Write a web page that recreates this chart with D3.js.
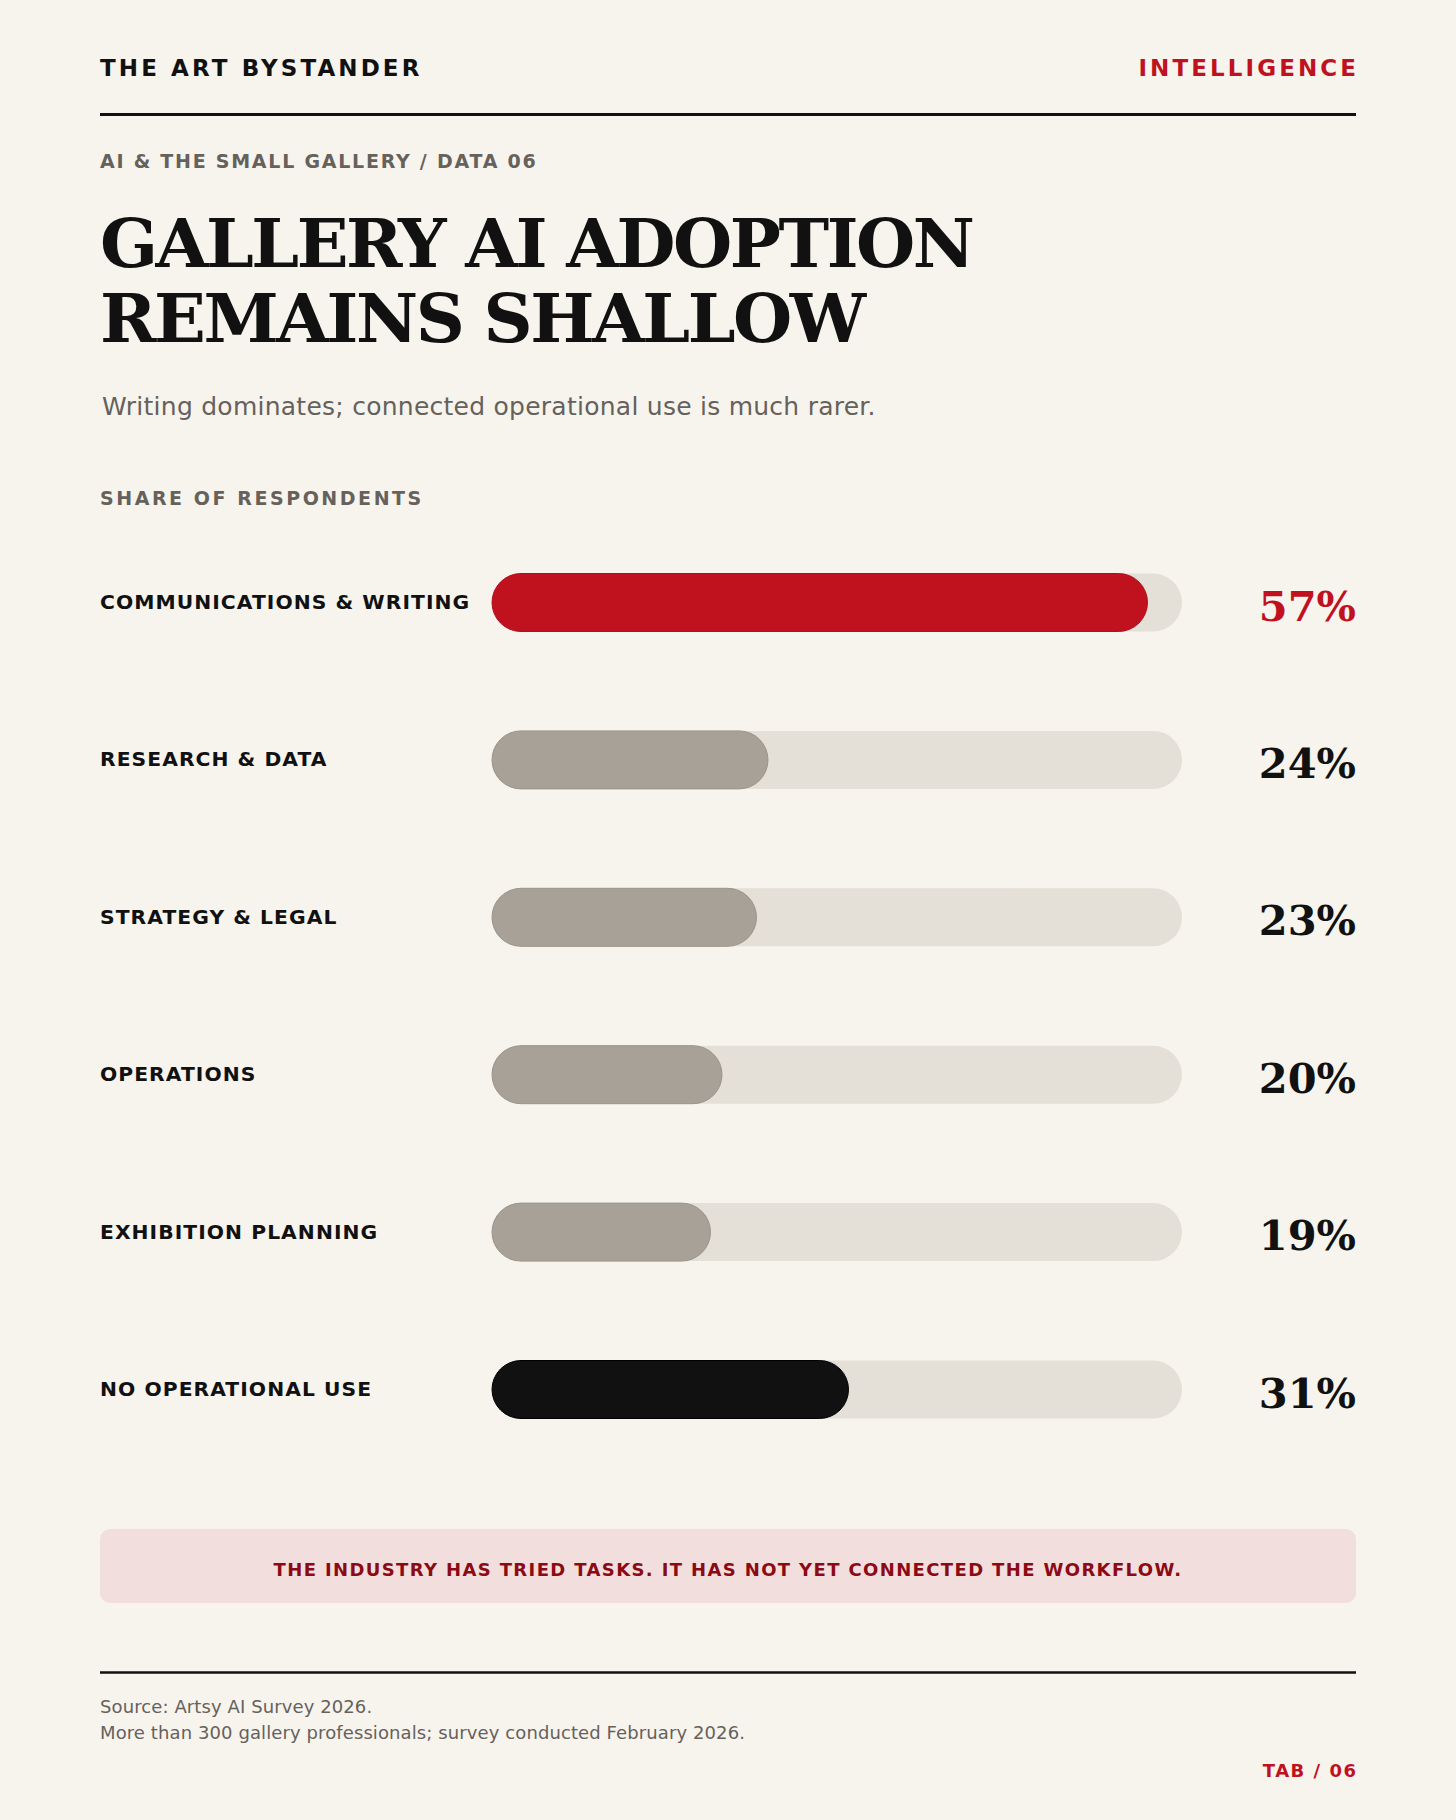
<!DOCTYPE html>
<html>
<head>
<meta charset="utf-8">
<script src="https://cdn.jsdelivr.net/npm/d3@7/dist/d3.min.js"></script>
<style>
  html, body { margin: 0; padding: 0; background: #f7f4ee; }
  svg { display: block; }
</style>
</head>
<body>
<svg id="chart" width="1456" height="1820"></svg>
<script>
// ---- data ----
const categories = ["COMMUNICATIONS & WRITING", "RESEARCH & DATA", "STRATEGY & LEGAL", "OPERATIONS", "EXHIBITION PLANNING", "NO OPERATIONAL USE"];
const values = [57, 24, 23, 20, 19, 31];
const barKinds = ["highlight", "base", "base", "base", "base", "dark"];
const valueLabels = ["57%", "24%", "23%", "20%", "19%", "31%"];
const scaleMax = 60;

const colors = {
  bg: "#f7f4ee", ink: "#111111", muted: "#66615b", red: "#c0111f",
  track: "#e4dfd7", base: "#a8a197", dark: "#111111",
  calloutBg: "#f2dedd", calloutInk: "#8b0a14"
};
const sans = "'DejaVu Sans', Verdana, sans-serif";
const serif = "'DejaVu Serif', Georgia, serif";

const svg = d3.select("#chart");
svg.append("rect").attr("width", 1456).attr("height", 1820).attr("fill", colors.bg);

const L = 100, R = 1356;

// header
svg.append("text").attr("x", L).attr("y", 76)
  .attr("font-family", sans).attr("font-weight", "bold").attr("font-size", 23)
  .attr("letter-spacing", "3.1px").attr("fill", colors.ink).text("THE ART BYSTANDER");
svg.append("text").attr("x", R + 3.1).attr("y", 76).attr("text-anchor", "end")
  .attr("font-family", sans).attr("font-weight", "bold").attr("font-size", 23)
  .attr("letter-spacing", "3.1px").attr("fill", colors.red).text("INTELLIGENCE");
svg.append("line").attr("x1", L).attr("x2", R).attr("y1", 114.5).attr("y2", 114.5)
  .attr("stroke", colors.ink).attr("stroke-width", 3);

// kicker
svg.append("text").attr("x", L).attr("y", 168)
  .attr("font-family", sans).attr("font-weight", "bold").attr("font-size", 19)
  .attr("letter-spacing", "1.75px").attr("fill", colors.muted).text("AI & THE SMALL GALLERY / DATA 06");

// title
["GALLERY AI ADOPTION", "REMAINS SHALLOW"].forEach((t, i) => {
  svg.append("text").attr("x", L).attr("y", 267 + i * 74.5)
    .attr("font-family", serif).attr("font-weight", "bold").attr("font-size", 68)
    .attr("letter-spacing", "-2.45px").attr("fill", colors.ink).text(t);
});

// subtitle
svg.append("text").attr("x", L + 2).attr("y", 415)
  .attr("font-family", sans).attr("font-size", 25).attr("letter-spacing", "0.25px")
  .attr("fill", colors.muted)
  .text("Writing dominates; connected operational use is much rarer.");

// section label
svg.append("text").attr("x", L).attr("y", 505)
  .attr("font-family", sans).attr("font-weight", "bold").attr("font-size", 19)
  .attr("letter-spacing", "2.55px").attr("fill", colors.muted).text("SHARE OF RESPONDENTS");

// bars
const x = d3.scaleLinear().domain([0, scaleMax]).range([492, 1182]);
const y = d3.scalePoint().domain(categories).range([602.5, 1389.5]);
const bh = 58;
const rows = categories.map((c, i) => ({ c, v: values[i], kind: barKinds[i], lab: valueLabels[i] }));

const g = svg.append("g");
const row = g.selectAll("g.row").data(rows).enter().append("g").attr("class", "row")
  .attr("transform", d => `translate(0,${y(d.c)})`);

row.append("rect").attr("x", x(0)).attr("y", -bh / 2).attr("width", x(scaleMax) - x(0)).attr("height", bh)
  .attr("rx", bh / 2).attr("fill", colors.track);
row.append("rect").attr("x", x(0)).attr("y", -bh / 2).attr("width", d => x(d.v) - x(0)).attr("height", bh)
  .attr("rx", bh / 2)
  .attr("fill", d => d.kind === "highlight" ? colors.red : d.kind === "dark" ? colors.dark : colors.base)
  .attr("stroke", d => d.kind === "highlight" ? "#b20e1b" : d.kind === "dark" ? "#000" : "#9b948a")
  .attr("stroke-width", 1);

row.append("text").attr("x", L).attr("y", 6.5)
  .attr("font-family", sans).attr("font-weight", "bold").attr("font-size", 20.3)
  .attr("letter-spacing", "1.05px").attr("fill", colors.ink).text(d => d.c);

row.append("text").attr("x", R).attr("y", 18).attr("text-anchor", "end")
  .attr("font-family", serif).attr("font-weight", "bold").attr("font-size", 41.5)
  .attr("fill", d => d.kind === "highlight" ? colors.red : colors.ink).text(d => d.lab);

// callout
svg.append("rect").attr("x", L).attr("y", 1529).attr("width", R - L).attr("height", 74)
  .attr("rx", 10).attr("fill", colors.calloutBg);
svg.append("text").attr("x", (L + R) / 2).attr("y", 1576).attr("text-anchor", "middle")
  .attr("font-family", sans).attr("font-weight", "bold").attr("font-size", 18)
  .attr("letter-spacing", "1.37px").attr("fill", colors.calloutInk)
  .text("THE INDUSTRY HAS TRIED TASKS. IT HAS NOT YET CONNECTED THE WORKFLOW.");

// footer
svg.append("line").attr("x1", L).attr("x2", R).attr("y1", 1672.5).attr("y2", 1672.5)
  .attr("stroke", colors.ink).attr("stroke-width", 2.5);
svg.append("text").attr("x", L).attr("y", 1713)
  .attr("font-family", sans).attr("font-size", 18).attr("letter-spacing", "0.1px").attr("fill", colors.muted)
  .text("Source: Artsy AI Survey 2026.");
svg.append("text").attr("x", L).attr("y", 1739)
  .attr("font-family", sans).attr("font-size", 18).attr("letter-spacing", "0.1px").attr("fill", colors.muted)
  .text("More than 300 gallery professionals; survey conducted February 2026.");
svg.append("text").attr("x", R + 1.5).attr("y", 1777).attr("text-anchor", "end")
  .attr("font-family", sans).attr("font-weight", "bold").attr("font-size", 18)
  .attr("letter-spacing", "1.5px").attr("fill", colors.red).text("TAB / 06");
</script>
</body>
</html>
